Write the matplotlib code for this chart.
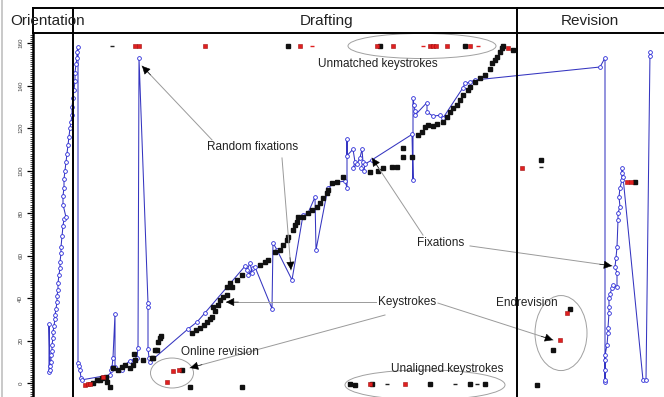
import numpy as np
import matplotlib
matplotlib.use("Agg")
import matplotlib.pyplot as plt
from matplotlib.lines import Line2D
from matplotlib.patches import Ellipse

plt.rcParams['font.family'] = ['Liberation Sans', 'DejaVu Sans']

# =========================
# data (time units, character position)
# =========================

# fixations: orientation phase
fix_orient_t = [49, 49, 50, 50, 51, 51, 52, 52, 53, 53, 54, 55, 55, 56, 57, 57,
                58, 58, 59, 60, 60, 61, 61, 62, 63, 64, 66, 63, 63, 64, 64, 65,
                66, 67, 68, 69, 70, 71, 72, 72, 73, 74, 75, 75, 76, 77, 77, 78]
fix_orient_y = [5, 28, 6, 8, 10, 13, 15, 18, 21, 24, 27, 30, 32, 35, 38, 41,
                44, 47, 51, 54, 57, 61, 64, 69, 74, 77, 78, 84, 88, 92, 96, 100,
                104, 108, 112, 116, 120, 123, 126, 130, 134, 138, 142, 146, 150, 153, 156, 158]

# fixations: drafting phase
fix_draft_t = [78, 79, 80, 81, 82, 110, 111, 112, 113, 115, 115, 118, 122, 125, 130,
               134, 137, 138, 139, 148, 148, 148, 149, 150, 188, 197, 205, 245, 247,
               250, 252, 248, 253, 255, 272, 273, 277, 292, 303, 308, 315, 316, 328,
               337, 345, 347, 347, 347, 353, 355, 353, 357, 360, 362, 363, 361, 364,
               365, 372, 412, 413, 413, 414, 415, 415, 427, 427, 433, 440, 443, 463,
               465, 470, 475]
fix_draft_y = [9.4, 8, 6, 2.5, 1.5, 3.8, 6, 7.5, 12, 32.5, 7.5, 6, 6, 8.5, 10.5,
               11, 12, 16.5, 153, 37.6, 35.8, 16, 12, 10, 25.4, 28.7, 33, 55, 53,
               56.5, 52, 51, 54, 54.6, 35, 66, 62.6, 48.5, 79, 80, 87.5, 62.6, 92,
               94.5, 95, 92, 115, 107, 110, 104, 101, 103, 106, 110, 104, 101, 100,
               103, 105, 117, 95.5, 134, 131, 128, 126, 132, 127.5, 125.6, 126, 124.7, 139,
               141, 141.6, 142.6]

# fixations: revision phase
fix_rev_t = [600, 605, 605, 605, 605, 605, 605, 607, 608, 608, 609, 609, 609, 610,
             612, 613, 617, 617, 615, 616, 617, 618, 618, 620, 619, 620, 622, 622,
             622, 623, 643, 646, 650, 650]
fix_rev_y = [148.7, 153, 0.5, 1.4, 6, 10.8, 13, 18, 23.5, 26, 33, 36, 40, 42,
             44.7, 46, 45, 51.8, 54.6, 59, 64, 76.7, 80, 83, 87.5, 92, 95.5, 98.8,
             101, 97, 1.4, 1.4, 155.8, 154]

# keystrokes (matched)
key_t = [93, 97, 100, 102, 106, 107, 110, 113, 118, 122, 125, 130, 133, 134, 135,
         143, 152, 153, 155, 157, 158, 160, 161, 182, 190, 192, 196, 200, 204, 207,
         210, 212, 213, 215, 218, 220, 223, 227, 227, 230, 232, 237, 242, 242, 260,
         265, 268, 275, 280, 283, 287, 288, 293, 295, 297, 298, 303, 308, 312, 317,
         320, 323, 327, 328, 332, 337, 343, 370, 378, 383, 392, 397, 403, 403, 412,
         418, 422, 425, 428, 433, 437, 443, 447, 450, 453, 457, 460, 463, 468, 470,
         475, 480, 485, 490, 492, 495, 497, 500, 502, 503, 513,
         350, 355, 372, 430, 470, 485, 537, 541, 570, 553, 635,
         288, 380, 465]
key_y = [0, 1.4, 1.4, 2.3, 2.8, 0.5, -1.9, 7, 6, 7.5, 8.5, 7, 8.5, 13.6, 10.8,
         10.8, 11.8, 12, 15.5, 15.5, 19.3, 21, 22, 6, -1.9, 23.5, 25, 26, 27.5, 28.7,
         30, 31, 35.8, 34, 36.7, 39, 40.5, 41.4, 45, 47, 45, 48.5, 50.8, -1.9, 55.5,
         57, 58, 61.6, 62.6, 65, 67.3, 68.7, 72, 74.4, 75.8, 78, 78, 80, 81.4, 82.8,
         84.7, 87, 89.4, 91, 94, 94.6, 97, 99.3, 100, 101, 101.6, 101.6, 110.6, 106.4, 106.4,
         116.7, 118, 120.5, 121.4, 121, 122, 123, 125, 127.5, 129.4, 130.8, 133, 135.5, 137.9, 139.3,
         141.6, 143.5, 145, 148, 150.6, 152, 153.4, 155.8, 157.6, 158.6, 156.7,
         -0.5, -1, -0.5, -0.5, -0.5, -0.5, -1, 105, 34.8, 15.5, 94.6,
         158.6, 158.6, 158.6]

# keystrokes (deletions / unmatched, red)
red_t = [85, 88, 90, 103, 167, 173, 179, 370, 405, 508, 522, 560, 567, 627, 631,
         135, 139, 205, 300, 377, 393, 430, 433, 436, 447, 470]
red_y = [-0.9, -0.5, -0.5, 2.8, 0.5, 5.6, 6, -0.5, -0.5, 157.6, 101.2, 20.2, 33, 94.6, 94.6,
         158.6, 158.6, 158.6, 158.6, 158.6, 158.6, 158.6, 158.6, 158.6, 158.6, 158.6]

# small dash-like keystroke marks
dash_t = [112, 387, 455, 477, 541]
dash_y = [158.6, -0.5, -0.5, -0.5, 101.5]
red_dash_t = [312, 423, 478]
red_dash_y = [158.6, 158.6, 158.6]

yticks = [0, 20, 40, 60, 80, 100, 120, 140, 160]
phases = ["Orientation", "Drafting", "Revision"]

# =========================
# figure
# =========================

W, H = 664, 397
fig = plt.figure(figsize=(W / 100, H / 100), dpi=100)

# plot region: left edge at x=33px, top at y=33px
ax = fig.add_axes([33 / W, 0, (W - 33) / W, (H - 33) / H])
ax.set_xlim(33, W)
ax.set_ylim((383 - 397) / 2.125, (383 - 33) / 2.125)

for s in ["top", "right", "bottom"]:
    ax.spines[s].set_visible(False)
ax.spines["left"].set_linewidth(1.8)
ax.set_xticks([])
ax.set_yticks(yticks)
ax.set_yticklabels([str(v) for v in yticks], rotation=90, fontsize=4.5,
                   color="#444444", va="center")
ax.set_yticks(np.arange(-6, 165, 1), minor=True)
ax.tick_params(axis="y", which="major", length=4, width=0.9, pad=3)
ax.tick_params(axis="y", which="minor", length=2.5, width=0.5)

# fixations
fix_t = fix_orient_t + fix_draft_t + fix_rev_t
fix_y = fix_orient_y + fix_draft_y + fix_rev_y
ax.plot(fix_t, fix_y, color="#3535c0", lw=0.75, marker="o", ms=2.7,
        mfc="white", mec="#2a2ad8", mew=0.6, zorder=3)

# keystrokes
ax.plot(key_t, key_y, ls="none", marker="s", ms=2.5, color="#111111", zorder=4)
ax.plot(red_t, red_y, ls="none", marker="s", ms=2.5, mfc="#e02020", mec="#a01010",
        mew=0.4, zorder=4)
ax.plot(dash_t, dash_y, ls="none", marker="_", ms=3.5, mew=1.0, color="#222222", zorder=4)
ax.plot(red_dash_t, red_dash_y, ls="none", marker="_", ms=3.5, mew=1.0, color="#e02020", zorder=4)

# =========================
# annotations
# =========================

tk = dict(fontsize=8.5, color="#222222", ha="center", va="center", zorder=6)
ax.text(378, 150.1, "Unmatched keystrokes", **tk)
ax.text(253, 111.1, "Random fixations", **tk)
ax.text(441, 65.9, "Fixations", **tk)
ax.text(407, 38.1, "Keystrokes", **tk)
ax.text(220, 14.6, "Online revision", **tk)
ax.text(527, 37.6, "Endrevision", **tk)
ax.text(447, 6.6, "Unaligned keystrokes", **tk)


def arrow(start, tip):
    ax.plot([start[0], tip[0]], [start[1], tip[1]], color="#9a9a9a", lw=0.7, zorder=5)
    dx = tip[0] - start[0]
    dy = (tip[1] - start[1]) * 2.125
    n = np.hypot(dx, dy)
    ax.annotate("", xy=tip, xytext=(-dx / n * 9, -dy / n * 9),
                textcoords="offset points",
                arrowprops=dict(arrowstyle="-|>", mutation_scale=13, color="black",
                                lw=0.4, shrinkA=0, shrinkB=0), zorder=6)


arrow((212, 114.4), (142, 149.2))
arrow((282, 105.9), (291, 53.2))
arrow((423, 69.6), (372, 105.9))
arrow((470, 64.5), (612, 55.1))
arrow((376, 38.1), (226, 38.1))
arrow((385, 32.0), (190, 7.1))
arrow((438, 37.6), (553, 20.2))

for cx, cy, w, h in [(422, 158.6, 148, 11.8), (172, 4.7, 43, 14.1),
                     (425, -0.9, 160, 14.1), (561, 23.5, 52, 35.3)]:
    ax.add_patch(Ellipse((cx, cy), w, h, fill=False, ec="#a0a0a0", lw=0.7, zorder=5))

# =========================
# phase header
# =========================

def fx(px):
    return px / W


def fy(py):
    return 1 - py / H


lk = dict(color="black", lw=1.4, transform=fig.transFigure)
fig.add_artist(Line2D([fx(33), fx(W)], [fy(8), fy(8)], **lk))
fig.add_artist(Line2D([fx(33), fx(W)], [fy(33), fy(33)], **lk))
fig.add_artist(Line2D([fx(33), fx(33)], [fy(8), fy(33)], **lk))
fig.add_artist(Line2D([fx(73), fx(73)], [fy(8), fy(H)], **lk))
fig.add_artist(Line2D([fx(517), fx(517)], [fy(8), fy(H)], **lk))
fig.add_artist(Line2D([fx(2), fx(2)], [0, 1], color="#c0c0c0", lw=1.2,
                      transform=fig.transFigure))

for name, px in zip(phases, [48, 327, 590]):
    fig.text(fx(px), fy(21), name, fontsize=11, ha="center", va="center", color="#222222")

fig.savefig("out.png", dpi=100)
